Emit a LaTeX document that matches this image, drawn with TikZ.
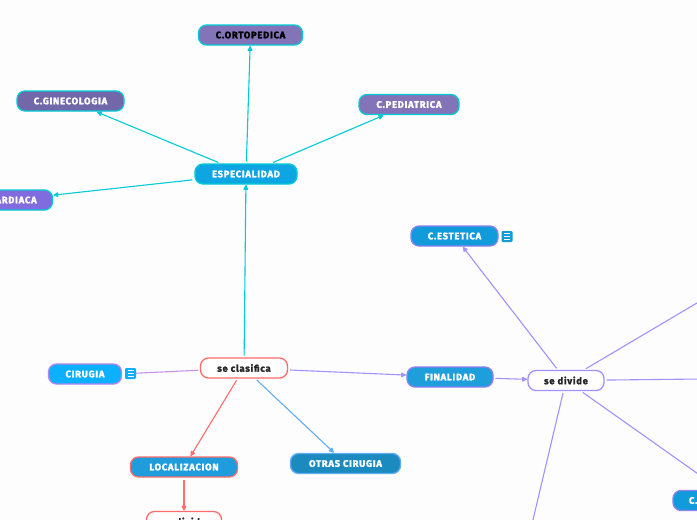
\documentclass[tikz,border=0pt]{standalone}
\usepackage{fontspec}
\setmainfont{Fira Sans}[BoldFeatures={FakeBold=2,LetterSpace=8}]
\usetikzlibrary{arrows.meta}
\definecolor{bgc}{HTML}{FDFDFD}
\definecolor{cteal}{HTML}{00CBD6}
\definecolor{cvio}{HTML}{A192FF}
\definecolor{cred}{HTML}{FF6B6B}
\definecolor{csky}{HTML}{5FAEF5}
\definecolor{clil}{HTML}{C792EA}
\definecolor{fesp}{HTML}{0EA5E3}
\definecolor{forto}{HTML}{8374BA}
\definecolor{fgin}{HTML}{7267A8}
\definecolor{fcar}{HTML}{806CDE}
\definecolor{fcir}{HTML}{0BB0FF}
\definecolor{floc}{HTML}{1E9CDB}
\definecolor{fotr}{HTML}{1B8ABF}
\definecolor{ffin}{HTML}{1E9FDB}
\definecolor{fest}{HTML}{129BDB}
\definecolor{bvio}{HTML}{8F80F0}
\definecolor{bcir}{HTML}{B584EE}
\tikzset{
  x=1pt,y=-1pt,
  box/.style={draw,line width=1.3pt,rounded corners=8pt,inner sep=0pt,outer sep=1pt,font=\bfseries\fontsize{9.4}{11}\selectfont,text=white,anchor=center},
  sub/.style={box,fill=white,text=black!85},
  con/.style={line width=1.1pt,shorten <=1.5pt},
  arr/.style={con,-{Latex[length=6pt,width=6pt,round]}},
  icon/.style={fill=#1,rounded corners=1.2pt,minimum width=11pt,minimum height=11pt,inner sep=0pt,outer sep=0pt},
}
\newcommand{\nodebox}[7]{\node[box,draw=#1,fill=#2,minimum width=#3pt,minimum height=#4pt] (#5) at (#6) {#7};}
\newcommand{\bars}[1]{\foreach \d in {-2.7,0,2.7} \draw[white,line width=0.7pt] ([xshift=-3pt,yshift=\d pt]#1.center) -- ([xshift=3pt,yshift=\d pt]#1.center);}
\begin{document}
\begin{tikzpicture}
\useasboundingbox (0,0) rectangle (697,520);
\clip (0,0) rectangle (697,520);
\fill[bgc] (0,0) rectangle (697,520);
% nodes
\nodebox{cteal}{fesp}{102}{20}{esp}{246,174}{ESPECIALIDAD}
\node[box,draw=cteal,fill=forto,minimum width=104pt,minimum height=20pt,text=black] (orto) at (250.5,35) {C.ORTOPEDICA};
\nodebox{cteal}{fgin}{107}{20}{gin}{70.5,101}{C.GINECOLOGIA}
\nodebox{cteal}{fcar}{88}{20}{car}{8.5,200}{C.CARDIACA}
\nodebox{cteal}{forto}{100}{20}{ped}{409,104.5}{C.PEDIATRICA}
\node[sub,draw=cred,minimum width=87pt,minimum height=20pt] (cla) at (244,368) {se clasifica};
\nodebox{bcir}{fcir}{73}{20}{cir}{85,374}{CIRUGIA}
\nodebox{cred}{floc}{107}{20}{loc}{184,467}{LOCALIZACION}
\nodebox{csky}{fotr}{110}{20}{otr}{345.5,463.5}{OTRAS CIRUGIA}
\node[sub,draw=cred,minimum width=75pt,minimum height=20pt] (div1) at (184,521.5) {se divide};
\nodebox{bvio}{ffin}{86}{20}{fin}{450,377}{FINALIDAD}
\node[sub,draw=cvio,minimum width=76pt,minimum height=20pt] (div2) at (566,380.5) {se divide};
\nodebox{bvio}{fest}{87}{20}{est}{454.5,236}{C.ESTETICA}
\node[box,draw=bvio,fill=fest,minimum width=100pt,minimum height=20pt,text width=68pt,align=left] (cx) at (723,500.5) {C.};
\node[icon=fcir] (icir) at (130.5,373.5) {};
\node[icon=fest] (iest) at (507,236.5) {};
\bars{icir}
\bars{iest}
% free ends
\coordinate (e1) at (701,300.6);
\coordinate (e2) at (701,379);
\coordinate (e3) at (701,476);
\coordinate (e4) at (532,524);
% connectors
\draw[arr,cteal] (cla) -- (esp);
\draw[arr,cteal] (esp) -- (orto);
\draw[arr,cteal] (esp) -- (gin);
\draw[arr,cteal] (esp) -- (car);
\draw[arr,cteal] (esp) -- (ped);
\draw[con,clil] (cla) -- (icir);
\draw[arr,cred] (cla) -- (loc);
\draw[arr,csky] (cla) -- (otr);
\draw[arr,cvio] (cla) -- (fin);
\draw[arr,cred] (loc) -- (div1);
\draw[arr,cvio] (fin) -- (div2);
\draw[arr,cvio] (div2) -- (est);
\draw[con,cvio] (div2) -- (e1);
\draw[con,cvio] (div2) -- (e2);
\draw[con,cvio] (div2) -- (e3);
\draw[con,cvio] (div2) -- (e4);
\end{tikzpicture}
\end{document}
